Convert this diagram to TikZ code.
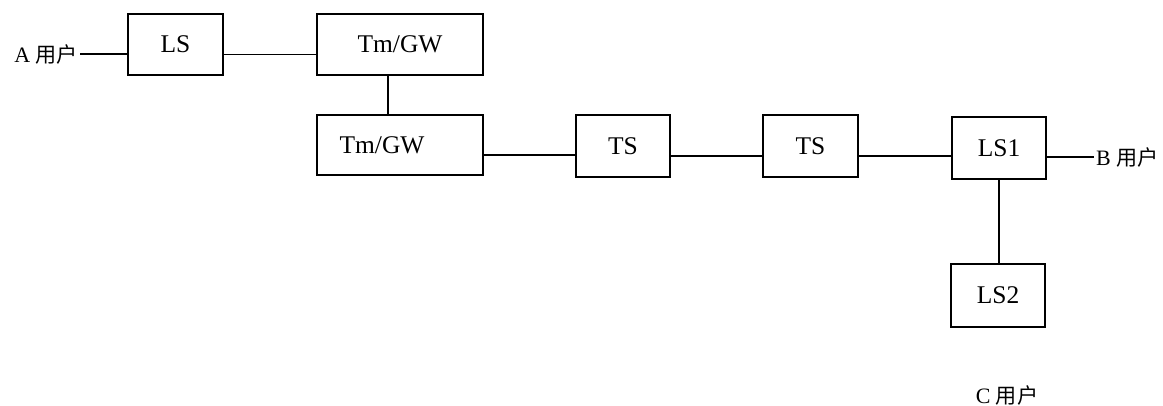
\documentclass[tikz,border=0pt]{standalone}
\usepackage{fontspec}
\setmainfont{Liberation Serif}
\newfontfamily\cjk{Noto Sans CJK SC}
\usepackage{tikz}

\begin{document}
\begin{tikzpicture}[x=0.2mm,y=-0.2mm,
                   box/.style={draw,line width=1pt,inner sep=0pt,font=\fontsize{14.5}{16}\selectfont},
                   user/.style={inner sep=1pt,font=\fontsize{12.5}{14}\selectfont},
                   link/.style={line width=0.7pt}]
\useasboundingbox (0,0) rectangle (1163,406);
\node[box,minimum width=19mm,minimum height=12.2mm] (LS) at (175.5,44.5) {LS};
\node[box,minimum width=33.2mm,minimum height=12.2mm] (TG1) at (400,44.5) {Tm/GW};
\node[box,minimum width=33.2mm,minimum height=12mm] (TG2) at (400,145) {Tm/GW\hspace*{7.2mm}};
\node[box,minimum width=18.8mm,minimum height=12.4mm] (TS1) at (623,146) {TS};
\node[box,minimum width=19mm,minimum height=12.4mm] (TS2) at (810.5,146) {TS};
\node[box,minimum width=18.8mm,minimum height=12.4mm] (LS1) at (999,148) {LS1};
\node[box,minimum width=18.8mm,minimum height=12.6mm] (LS2) at (998,295.5) {LS2};
\node[user,anchor=east] (A) at (80,54) {A {\cjk\fontsize{12}{14}\selectfont 用户}};
\node[user,anchor=west] (B) at (1094,157) {B {\cjk\fontsize{12}{14}\selectfont 用户}};
\node[user] (C) at (1007,395) {C {\cjk\fontsize{12}{14}\selectfont 用户}};
\draw[link] (A.east) -- (A.east -| LS.west);
\draw[link] ([yshift=-2mm]LS.east) -- ([yshift=-2mm]LS.east -| TG1.west);
\draw[link] ([xshift=-2.4mm]TG1.south) -- ([xshift=-2.4mm]TG1.south |- TG2.north);
\draw[link] ([yshift=-2mm]TG2.east) -- ([yshift=-2mm]TG2.east -| TS1.west);
\draw[link] ([yshift=-2mm]TS1.east) -- ([yshift=-2mm]TS1.east -| TS2.west);
\draw[link] ([yshift=-2mm]TS2.east) -- ([yshift=-2mm]TS2.east -| LS1.west);
\draw[link] (B.west -| LS1.east) -- (B.west);
\draw[link] (LS1.south) -- (LS1.south |- LS2.north);
\end{tikzpicture}
\end{document}
